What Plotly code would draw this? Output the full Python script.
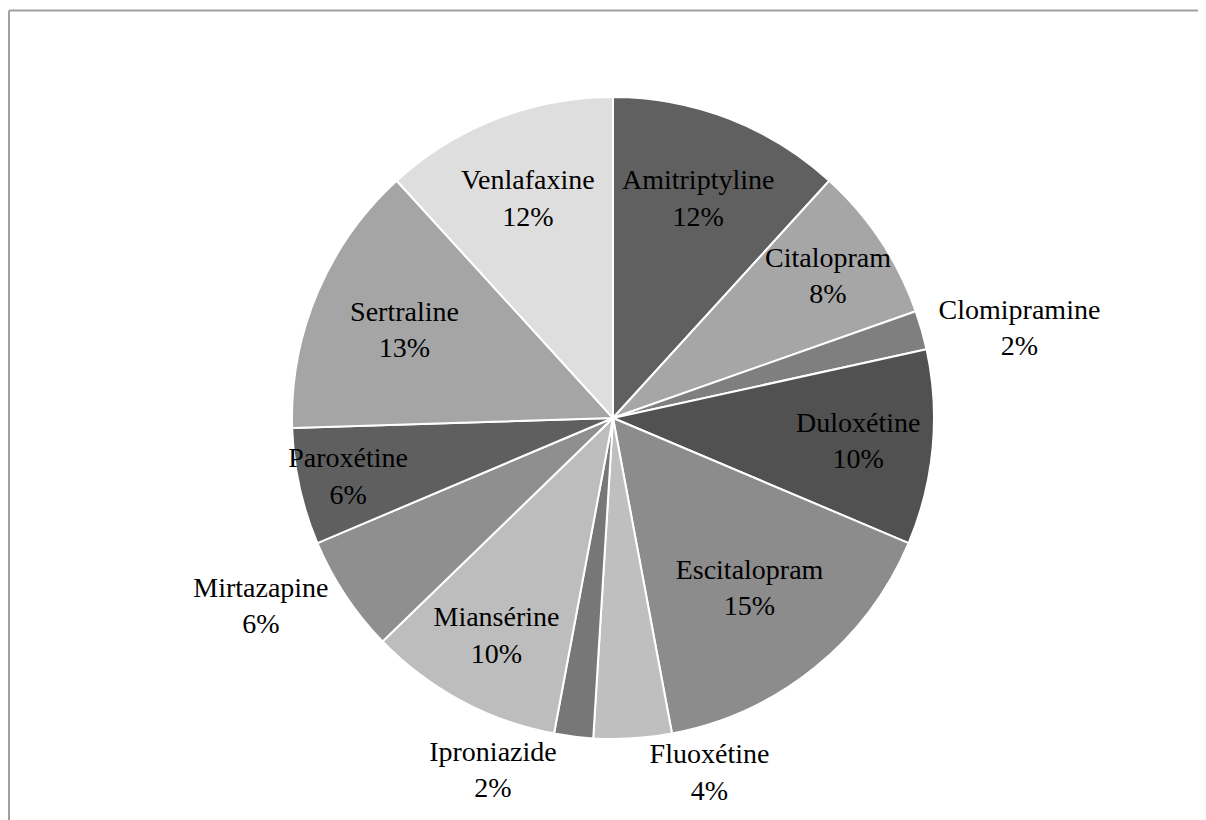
import plotly.graph_objects as go

molecules = ["Amitriptyline", "Citalopram", "Clomipramine", "Duloxétine", "Escitalopram",
             "Fluoxétine", "Iproniazide", "Miansérine", "Mirtazapine", "Paroxétine",
             "Sertraline", "Venlafaxine"]
effectifs = [6, 4, 1, 5, 8, 2, 1, 5, 3, 3, 7, 6]
pourcentages = ["12%", "8%", "2%", "10%", "15%", "4%", "2%", "10%", "6%", "6%", "13%", "12%"]
couleurs = ["#606060", "#a6a6a6", "#7f7f7f", "#515151", "#8c8c8c", "#bfbfbf",
            "#777777", "#bdbdbd", "#8f8f8f", "#5f5f5f", "#a5a5a5", "#dedede"]
positions = ["inside", "inside", "outside", "inside", "inside", "outside",
             "outside", "inside", "outside", "inside", "inside", "inside"]

fig = go.Figure(go.Pie(
    labels=molecules,
    values=effectifs,
    customdata=pourcentages,
    texttemplate="%{label}<br>%{customdata}",
    textposition=positions,
    insidetextorientation="horizontal",
    sort=False,
    direction="clockwise",
    rotation=0,
    automargin=False,
    marker=dict(colors=couleurs, line=dict(color="white", width=2)),
    textfont=dict(family="Liberation Serif", size=28, color="black"),
    showlegend=False,
))

# Cadre gris en haut et à gauche
fig.add_shape(type="line", xref="paper", yref="paper", x0=-0.0025, x1=1.01, y0=1.1347, y1=1.1347,
              line=dict(color="#a0a0a0", width=2))
fig.add_shape(type="line", xref="paper", yref="paper", x0=-0.0025, x1=-0.0025, y0=1.1347, y1=-0.2,
              line=dict(color="#a0a0a0", width=2))

fig.update_layout(
    width=1206, height=820,
    margin=dict(l=4, r=0, t=89, b=89, autoexpand=False),
    paper_bgcolor="white",
    plot_bgcolor="white",
    uniformtext=dict(minsize=28, mode="show"),
)

fig.write_html("out.html")
